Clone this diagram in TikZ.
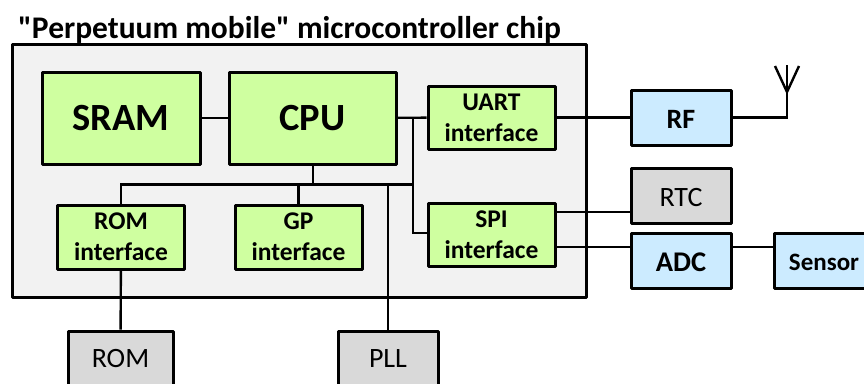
\documentclass[tikz,border=0pt]{standalone}
\usepackage{xcolor}
\usepackage{fontspec}
\setmainfont[Ligatures=TeXOff]{Carlito}
\usepackage{tikz}
\usetikzlibrary{shapes,arrows}
\definecolor{chipgray}{RGB}{242,242,242}
\definecolor{blockgreen}{RGB}{207,255,160}
\definecolor{blockblue}{RGB}{204,235,255}
\definecolor{blockgray}{RGB}{217,217,217}
\tikzstyle{greenblock}=[draw,line width=3pt,line join=round,inner sep=0pt,align=center,fill=blockgreen]
\tikzstyle{blueblock}=[draw,line width=3pt,line join=round,inner sep=0pt,align=center,fill=blockblue]
\tikzstyle{grayblock}=[draw,line width=3pt,line join=round,inner sep=0pt,align=center,fill=blockgray]
\tikzstyle{wire}=[line width=2.4pt]

\begin{document}
\begin{tikzpicture}[x=1pt,y=-1pt]

\clip (0,0) rectangle (864,383);

\node[draw,line width=3pt,line join=round,fill=chipgray,minimum width=574pt,minimum height=253pt,inner sep=0pt] (chip) at (299,170.5) {};
\node[anchor=base west,inner sep=0pt,font=\fontsize{31.5}{34}\selectfont\bfseries] (title) at (18,38) {"Perpetuum mobile" microcontroller chip};

\node[greenblock,minimum width=158pt,minimum height=92pt,font=\fontsize{38.5}{42}\selectfont\bfseries] (sram) at (121,118) {SRAM};
\node[greenblock,minimum width=167pt,minimum height=92pt,font=\fontsize{38.5}{42}\selectfont\bfseries] (cpu) at (312.5,118) {CPU};
\node[greenblock,minimum width=127pt,minimum height=63pt,font=\fontsize{25.5}{31}\selectfont\bfseries] (uart) at (491.5,117.5) {UART\\interface};
\node[greenblock,minimum width=127pt,minimum height=63pt,font=\fontsize{25.5}{31}\selectfont\bfseries] (spi) at (491.5,235) {SPI\\interface};
\node[greenblock,minimum width=127pt,minimum height=64pt,font=\fontsize{25.5}{31}\selectfont\bfseries] (romif) at (121,237) {ROM\\interface};
\node[greenblock,minimum width=127pt,minimum height=64pt,font=\fontsize{25.5}{31}\selectfont\bfseries] (gpif) at (298.5,237) {GP\\interface};

\node[blueblock,minimum width=100pt,minimum height=55pt,text height=22pt,text depth=0pt,font=\fontsize{28}{30}\selectfont\bfseries] (rf) at (681,117.5) {RF};
\node[grayblock,minimum width=100pt,minimum height=55pt,text height=22pt,text depth=0pt,font=\fontsize{28}{30}\selectfont] (rtc) at (681,195.5) {RTC};
\node[blueblock,minimum width=100pt,minimum height=55pt,text height=22pt,text depth=0pt,font=\fontsize{28.5}{30}\selectfont\bfseries] (adc) at (681,260.5) {ADC};
\node[blueblock,minimum width=100pt,minimum height=55pt,text height=20pt,text depth=0pt,font=\fontsize{25}{28}\selectfont\bfseries] (sensor) at (824,260.5) {Sensor};
\node[grayblock,minimum width=105pt,minimum height=55pt,font=\fontsize{28}{30}\selectfont] (rom) at (120.5,358.5) {ROM};
\node[grayblock,minimum width=100pt,minimum height=55pt,font=\fontsize{28}{30}\selectfont] (pll) at (388,358.5) {PLL};

\coordinate (cpuout) at (413,118);
\coordinate (busend) at (413,184.5);
\coordinate (busstart) at (121,184.5);
\coordinate (cpubus) at (313,184.5);
\coordinate (gpbus) at (298.5,184.5);
\coordinate (pllbus) at (388,184.5);
\coordinate (spiin) at (413,233);
\coordinate (rtcin) at (631,212);
\coordinate (adcin) at (631,247);
\coordinate (sensorin) at (774,247);
\coordinate (antbase) at (787,117.5);
\coordinate (antfoot) at (787,92);
\coordinate (antleft) at (775,66);
\coordinate (antright) at (799,66);
\coordinate (anttop) at (787,65);

\draw[wire] (sram) -- (cpu);
\draw[wire] (cpu) -- (uart);
\draw[wire] (uart) -- (rf);
\draw[wire] (rf) -- (antbase) -- (antfoot) -- (anttop);
\draw[wire] (antleft) -- (antfoot) -- (antright);
\draw[wire] (cpuout) -- (busend) -- (spiin) -- (spiin -| spi.west);
\draw[wire] (romif.north) -- (busstart) -- (busend);
\draw[wire] (cpu.south -| cpubus) -- (cpubus);
\draw[wire] (gpbus) -- (gpif.north);
\draw[wire] (pllbus) -- (pll.north);
\draw[wire] (romif) -- (rom);
\draw[wire] (rtcin -| spi.east) -- (rtcin);
\draw[wire] (adcin -| spi.east) -- (adcin);
\draw[wire] (adcin -| adc.east) -- (sensorin);

\end{tikzpicture}
\end{document}
